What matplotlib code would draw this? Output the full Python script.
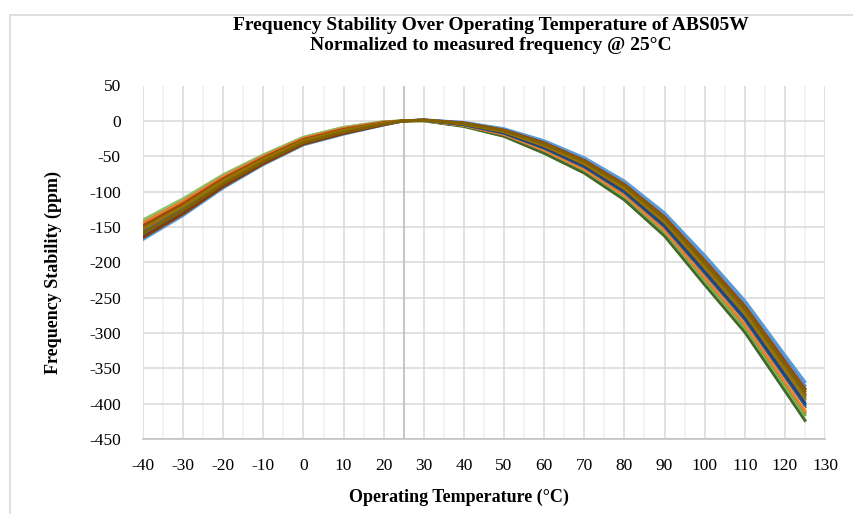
import matplotlib

matplotlib.use("Agg")
import matplotlib.pyplot as plt
from matplotlib.patches import Rectangle
from matplotlib.ticker import MultipleLocator

plt.rcParams["font.family"] = ["Liberation Serif", "DejaVu Serif"]
plt.rcParams["axes.unicode_minus"] = False

temps = [-40, -30, -20, -10, 0, 10, 20, 25, 30, 40, 50, 60, 70, 80, 90, 100, 110, 120, 125]

# one list per measured part (ppm, normalized to 25 C)
s01 = [-155.4, -123.2, -86.5, -55.7, -29.1, -14.5, -3.8, 0, 1.0, -4.1, -14.9, -34.3, -59.7, -94.5, -141.6, -204.7, -269.8, -348.9, -388.3]
s02 = [-144.2, -113.6, -78.9, -50.1, -24.7, -10.5, -1.8, 0, 0.4, -6.5, -19.3, -41.5, -68.5, -105.3, -154.8, -221.5, -287.8, -369.3, -410.3]
s03 = [-151.2, -119.6, -83.6, -53.6, -27.4, -13.0, -3.0, 0, 0.8, -5.0, -16.5, -37.0, -63.0, -98.5, -146.5, -211.0, -276.5, -356.5, -396.5]
s04 = [-156.8, -124.4, -87.4, -56.4, -29.6, -15.0, -4.0, 0, 0.5, -6.2, -18.7, -40.6, -67.4, -103.9, -153.1, -219.4, -285.5, -366.7, -407.5]
s05 = [-168.0, -134.0, -95.0, -62.0, -34.0, -19.0, -6.0, 0, 1.5, -2.0, -11.0, -28.0, -52.0, -85.0, -130.0, -190.0, -254.0, -331.0, -369.0]
s06 = [-141.4, -111.2, -77.0, -48.7, -23.6, -9.5, -1.3, 0, 0.2, -7.1, -20.4, -43.3, -70.7, -108.0, -158.1, -225.7, -292.3, -374.4, -415.8]
s07 = [-154.0, -122.0, -85.5, -55.0, -28.5, -14.0, -3.5, 0, 0.6, -5.6, -17.6, -38.8, -65.2, -101.2, -149.8, -215.2, -281.0, -361.6, -402.0]
s08 = [-148.4, -117.2, -81.7, -52.2, -26.3, -12.0, -2.5, 0, 1.2, -3.2, -13.2, -31.6, -56.4, -90.4, -136.6, -198.4, -263.0, -341.2, -380.0]
s09 = [-152.6, -120.8, -84.6, -54.3, -28.0, -13.5, -3.3, 0, 0.9, -4.4, -15.4, -35.2, -60.8, -95.8, -143.2, -206.8, -272.0, -351.4, -391.0]
s10 = [-159.6, -126.8, -89.3, -57.8, -30.7, -16.0, -4.5, 0, 1.1, -3.5, -13.8, -32.5, -57.5, -91.8, -138.3, -200.5, -265.3, -343.8, -382.8]
s11 = [-149.8, -118.4, -82.7, -52.9, -26.9, -12.5, -2.8, 0, 0.5, -5.9, -18.2, -39.7, -66.3, -102.6, -151.5, -217.3, -283.3, -364.2, -404.8]
s12 = [-145.6, -114.8, -79.8, -50.8, -25.2, -11.0, -2.0, 0, 0.0, -8.0, -22.0, -46.0, -74.0, -112.0, -163.0, -232.0, -299.0, -382.0, -424.0]
s13 = [-162.4, -129.2, -91.2, -59.2, -31.8, -17.0, -5.0, 0, 1.4, -2.6, -12.1, -29.8, -54.2, -87.7, -133.3, -194.2, -258.5, -336.1, -374.5]
s14 = [-147.0, -116.0, -80.8, -51.5, -25.8, -11.5, -2.3, 0, 0.3, -6.8, -19.8, -42.4, -69.6, -106.6, -156.4, -223.6, -290.0, -371.8, -413.0]
s15 = [-158.2, -125.6, -88.4, -57.1, -30.2, -15.5, -4.3, 0, 0.8, -4.7, -16.0, -36.1, -61.9, -97.2, -144.9, -208.9, -274.3, -354.0, -393.8]
s16 = [-161.0, -128.0, -90.3, -58.5, -31.3, -16.5, -4.8, 0, 0.4, -6.3, -18.9, -41.0, -67.8, -104.4, -153.8, -220.2, -286.4, -367.7, -408.6]
s17 = [-166.6, -132.8, -94.1, -61.3, -33.5, -18.5, -5.8, 0, 1.3, -2.9, -12.7, -30.7, -55.3, -89.1, -135.0, -196.3, -260.8, -338.7, -377.3]
s18 = [-140.0, -110.0, -76.0, -48.0, -23.0, -9.0, -1.0, 0, 0.0, -7.8, -21.7, -45.5, -73.3, -111.2, -162.0, -230.7, -297.7, -380.5, -422.4]
s19 = [-163.8, -130.4, -92.2, -59.9, -32.4, -17.5, -5.3, 0, 0.7, -5.3, -17.1, -37.9, -64.1, -99.9, -148.2, -213.1, -278.8, -359.1, -399.3]
s20 = [-142.8, -112.4, -77.9, -49.4, -24.1, -10.0, -1.5, 0, 1.1, -3.8, -14.3, -33.4, -58.6, -93.1, -139.9, -202.6, -267.5, -346.3, -385.5]
s21 = [-156.8, -124.4, -87.4, -56.4, -29.6, -15.0, -4.0, 0, 1.0, -4.2, -15.0, -34.5, -59.5, -94.0, -141.0, -203.5, -268.5, -347.5, -387.0]
s22 = [-165.2, -131.6, -93.1, -60.6, -32.9, -18.0, -5.5, 0, 1.2, -3.0, -13.0, -31.0, -56.0, -89.8, -136.0, -197.5, -262.0, -340.0, -379.0]

# drawn in this order, light colours first, dark ones on top
series = [s03, s15, s04, s13, s17, s05, s20, s14, s06,
          s18, s12, s11, s16, s02, s07, s19, s22, s08, s21, s01, s09, s10]
colors = ["#A5A5A5", "#848484", "#FFC000", "#4472C4", "#7CAFDD",
          "#5B9BD5", "#F1975A", "#D26012", "#70AD47", "#8CC168",
          "#43682B", "#335AA1", "#FFD966", "#ED7D31", "#255E91", "#264478",
          "#843C0C", "#9E480E", "#7F6000", "#636363", "#997300", "#806000"]

x_ticks = list(range(-40, 131, 10))
y_ticks = list(range(-450, 51, 50))

fig = plt.figure(figsize=(8.54, 5.14), dpi=100)
ax = fig.add_axes([143 / 854, 1 - 439 / 514, (825 - 143) / 854, (439 - 85.5) / 514])

# chart-area border like the spreadsheet frame
fig.patches.append(Rectangle((10 / 854, -0.05), 1.2, 1.05 - 15 / 514,
                             transform=fig.transFigure, fill=False,
                             edgecolor="#D9D9D9", linewidth=1.2))

for vals, c in zip(series, colors):
    ax.plot(temps, vals, color=c, linewidth=2.0, solid_joinstyle="round")

ax.set_xlim(-40, 130)
ax.set_ylim(-450, 50)
ax.set_xticks(x_ticks)
ax.set_yticks(y_ticks)
ax.xaxis.set_minor_locator(MultipleLocator(5))
ax.grid(which="major", color="#D9D9D9", linewidth=1.1)
ax.grid(which="minor", axis="x", color="#F0F0F0", linewidth=1.1)
ax.set_axisbelow(True)
ax.axvline(25, color="#BFBFBF", linewidth=1.2, zorder=1)

for side in ["top", "right", "left"]:
    ax.spines[side].set_visible(False)
ax.spines["bottom"].set_color("#BFBFBF")
ax.spines["bottom"].set_linewidth(1.1)
ax.tick_params(which="both", length=0)
ax.tick_params(axis="x", pad=14, labelsize=12.5)
ax.tick_params(axis="y", pad=16, labelsize=12.5)

fig.text(459 / 854, 1 - 497 / 514, "Operating Temperature (°C)",
         ha="center", va="center", fontsize=13, fontweight="bold")
fig.text(53 / 854, 1 - 272 / 514, "Frequency Stability (ppm)", rotation=90,
         ha="center", va="center", fontsize=13, fontweight="bold")

fig.text(491 / 854, 1 - 25 / 514, "Frequency Stability Over Operating Temperature of ABS05W",
         ha="center", va="center", fontsize=14, fontweight="bold")
fig.text(491 / 854, 1 - 46 / 514, "Normalized to measured frequency @ 25°C",
         ha="center", va="center", fontsize=14, fontweight="bold")

fig.savefig("out.png", dpi=100)
